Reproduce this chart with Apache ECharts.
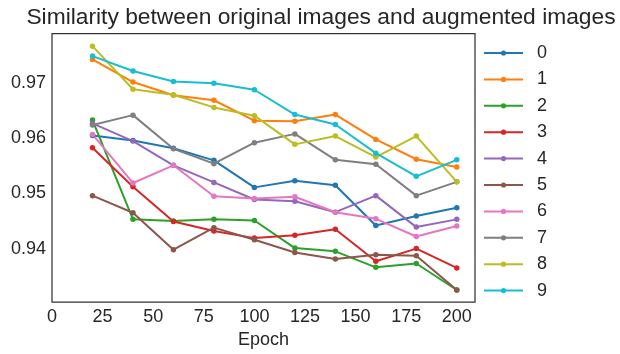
<!DOCTYPE html>
<html>
<head>
<meta charset="utf-8">
<script src="https://cdn.jsdelivr.net/npm/echarts@6/dist/echarts.min.js"></script>
<style>
html,body{margin:0;padding:0;background:#fff;}
#chart{width:620px;height:354px;}
</style>
</head>
<body>
<div id="chart"></div>
<script>
var epochs = [20, 40, 60, 80, 100, 120, 140, 160, 180, 200];
var seriesNames = ['0', '1', '2', '3', '4', '5', '6', '7', '8', '9'];
var s0 = [0.9605, 0.9596, 0.9582, 0.9560, 0.9511, 0.9523, 0.9515, 0.9442, 0.9459, 0.9474];
var s1 = [0.9743, 0.9702, 0.9678, 0.9669, 0.9632, 0.9631, 0.9643, 0.9598, 0.9562, 0.9548];
var s2 = [0.9633, 0.9453, 0.9450, 0.9453, 0.9451, 0.9401, 0.9395, 0.9366, 0.9373, 0.9325];
var s3 = [0.9583, 0.9512, 0.9449, 0.9432, 0.9419, 0.9424, 0.9435, 0.9377, 0.9400, 0.9365];
var s4 = [0.9627, 0.9595, 0.9551, 0.9520, 0.9489, 0.9486, 0.9466, 0.9496, 0.9439, 0.9453];
var s5 = [0.9496, 0.9465, 0.9398, 0.9438, 0.9416, 0.9393, 0.9381, 0.9389, 0.9387, 0.9325];
var s6 = [0.9607, 0.9519, 0.9551, 0.9495, 0.9491, 0.9494, 0.9466, 0.9454, 0.9422, 0.9441];
var s7 = [0.9624, 0.9642, 0.9581, 0.9554, 0.9592, 0.9608, 0.9561, 0.9553, 0.9496, 0.9521];
var s8 = [0.9767, 0.9689, 0.9679, 0.9656, 0.9641, 0.9589, 0.9604, 0.9566, 0.9604, 0.9521];
var s9 = [0.9749, 0.9722, 0.9703, 0.9700, 0.9688, 0.9643, 0.9625, 0.9573, 0.9531, 0.9561];
var xTicks = [0, 25, 50, 75, 100, 125, 150, 175, 200];
var yTicks = [0.94, 0.95, 0.96, 0.97];

var allValues = [s0, s1, s2, s3, s4, s5, s6, s7, s8, s9];
var colors = ['#1f77b4', '#ff7f0e', '#2ca02c', '#d62728', '#9467bd', '#8c564b', '#e377c2', '#7f7f7f', '#bcbd22', '#17becf'];
var FONT = 'Liberation Sans, Arial, sans-serif';
var TXT = '#262626';

var series = allValues.map(function (vals, i) {
  return {
    name: seriesNames[i],
    type: 'line',
    data: epochs.map(function (e, j) { return [e, vals[j]]; }),
    symbol: 'circle',
    symbolSize: 5.5,
    showSymbol: true,
    lineStyle: { width: 2, color: colors[i] },
    itemStyle: { color: colors[i] },
    emphasis: { disabled: true },
    animation: false
  };
});

var chart = echarts.init(document.getElementById('chart'), null, { renderer: 'canvas' });
chart.setOption({
  animation: false,
  color: colors,
  title: {
    text: 'Similarity between original images and augmented images',
    left: 321, textAlign: 'center',
    top: 6, padding: 0,
    textStyle: { fontFamily: FONT, fontSize: 22.8, fontWeight: 'normal', color: TXT }
  },
  grid: {
    left: 52, right: 145, top: 33.5, bottom: 46.5,
    show: true, borderColor: '#333333', borderWidth: 1.25, backgroundColor: 'transparent'
  },
  legend: {
    orient: 'vertical',
    left: 483, top: 44, padding: 0,
    itemWidth: 39, itemHeight: 6.5, itemGap: 8.4,
    data: seriesNames,
    textStyle: { fontFamily: FONT, fontSize: 18, color: TXT, padding: [0, 0, 0, 9] }
  },
  xAxis: {
    type: 'value', min: 0, max: 209,
    name: 'Epoch', nameLocation: 'middle', nameGap: 19,
    nameTextStyle: { fontFamily: FONT, fontSize: 18, color: TXT },
    axisLine: { show: false }, axisTick: { show: false }, splitLine: { show: false },
    axisLabel: { customValues: xTicks, fontFamily: FONT, fontSize: 18, color: TXT, margin: 6 }
  },
  yAxis: {
    type: 'value', min: 0.9303, max: 0.979,
    axisLine: { show: false }, axisTick: { show: false }, splitLine: { show: false },
    axisLabel: {
      customValues: yTicks, fontFamily: FONT, fontSize: 18, color: TXT, margin: 6,
      formatter: function (v) { return v.toFixed(2); }
    }
  },
  series: series
});
</script>
</body>
</html>
